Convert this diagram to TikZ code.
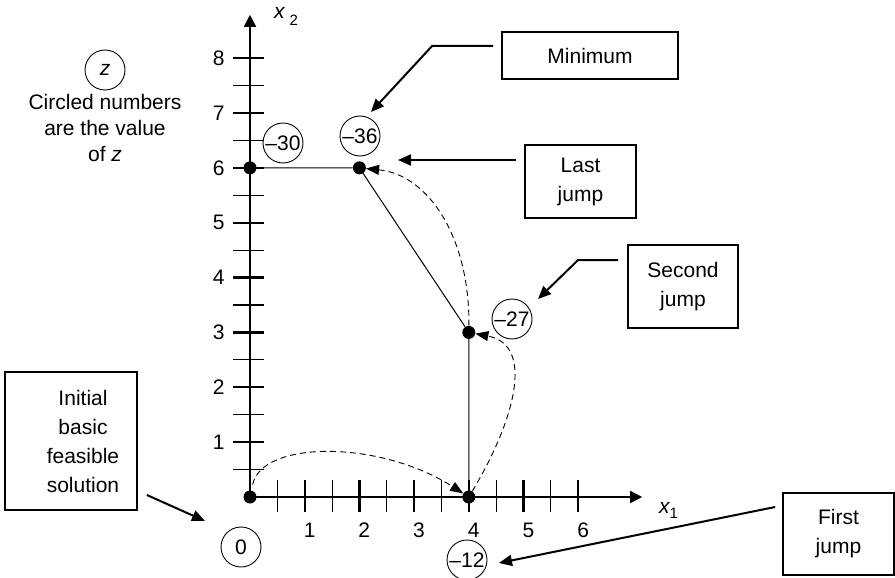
\documentclass[tikz,border=0pt]{standalone}
\usepackage{fontspec}
\setmainfont{Liberation Sans}
\usetikzlibrary{arrows.meta,calc}
\begin{document}
\begin{tikzpicture}[x=1pt,y=-1pt,
  every node/.style={font=\fontsize{21}{26}\selectfont},
  val/.style={draw,circle,line width=0.9pt,minimum size=40pt,inner sep=0pt},
  dot/.style={circle,fill,minimum size=13pt,inner sep=0pt},
  lbox/.style={draw,line width=1.8pt,inner sep=0pt,align=center,font=\fontsize{21}{29}\selectfont},
  callout/.style={line width=2pt,-{Triangle[length=13pt,width=11pt]}},
  jump/.style={dash pattern=on 6pt off 4pt,line width=0.9pt,-{Triangle[length=13pt,width=10pt]}},
  seg/.style={line width=1pt},
  axis/.style={line width=1.6pt,-{Triangle[length=12pt,width=12pt]}},
  major/.style={line width=2.4pt},
  minor/.style={line width=1.1pt},
]
\useasboundingbox (0,0) rectangle (895,578);

\begin{scope}[shift={(250,497)},x=54.7pt,y=54.86pt]
  \draw[axis] (0,0) -- (0,8.79);
  \draw[axis] (0,0) -- (7.17,0);
  \foreach \k in {1,...,8} {
    \draw[major] (-0.31,\k) -- (0.26,\k);
    \node (ly\k) at (-0.57,\k) {\k};
  }
  \foreach \k in {0.5,1.5,...,7.5} \draw[minor] (-0.31,\k) -- (0.26,\k);
  \foreach \k in {1,...,6} {
    \draw[major] (\k,-0.27) -- (\k,0.31);
    \node (lx\k) at (\k+0.09,-0.6) {\k};
  }
  \foreach \k in {0.5,1.5,...,5.5} \draw[minor] (\k,-0.27) -- (\k,0.31);
  \node[dot] (O) at (0,0) {};
  \node[dot] (P40) at (4,0) {};
  \node[dot] (P43) at (4,3) {};
  \node[dot] (P26) at (2,6) {};
  \node[dot] (P06) at (0,6) {};
\end{scope}

\node[anchor=base west,inner sep=0pt] (x2lab) at (274,19) {\itshape x\hspace{5pt}\upshape\raisebox{-7pt}{\fontsize{15}{15}\selectfont 2}};
\node[anchor=base west,inner sep=0pt] (x1lab) at (659,513) {\itshape x\upshape\raisebox{-5pt}{\fontsize{15}{15}\selectfont 1}};

\draw[seg] (P06) -- (P26) -- (P43) -- (P40);

\draw[jump,shorten <=6pt] (O) .. controls (262,440) and (380,440) .. (P40);
\draw[jump] (P40) .. controls (515,420) and (535,345) .. (P43);
\draw[jump] (P43) .. controls (470,240) and (430,175) .. (P26);

\node[val] (c30) at (283,143) {–30};
\node[val] (c36) at (360,136) {–36};
\node[val] (c27) at (512,319) {–27};
\node[val] (c12) at (467,560) {–12};
\node[val] (c0) at (241,547) {0};
\node[val] (cz) at (105,70) {\itshape z};
\node[align=center] (legend) at (105,128) {Circled numbers\\are the value\\of \textit{z}};

\node[lbox,minimum width=176pt,minimum height=47pt] (bmin) at (590,55.5) {Minimum};
\node[lbox,minimum width=111pt,minimum height=73pt] (blast) at (580.5,181.5) {Last\\jump};
\node[lbox,minimum width=110pt,minimum height=83pt] (bsec) at (683,286.5) {Second\\jump};
\node[lbox,minimum width=111pt,minimum height=82pt] (bfirst) at (838.5,534) {First\\jump};
\node[lbox,minimum width=132pt,minimum height=138pt] (binit) at (71,441) {};
\node[align=center,font=\fontsize{21}{29}\selectfont] (initText) at (83,441) {Initial\\basic\\feasible\\solution};

\coordinate (tmin) at (371,112);
\coordinate (tlast) at (398,160);
\coordinate (tsec) at (538,299);
\coordinate (tfirst) at (499,563);
\coordinate (tini) at (205,521);

\draw[callout] ([xshift=-8pt,yshift=9.5pt]bmin.west) -- ++(-61,0) -- (tmin);
\draw[callout] ([xshift=-8pt,yshift=21.5pt]blast.west) -- (tlast);
\draw[callout] ([xshift=-9pt,yshift=26.5pt]bsec.west) -- ++(-40,0) -- (tsec);
\draw[callout] ([xshift=-7pt,yshift=27pt]bfirst.west) -- (tfirst);
\draw[callout] ([xshift=9pt,yshift=-54pt]binit.east) -- (tini);
\end{tikzpicture}
\end{document}
